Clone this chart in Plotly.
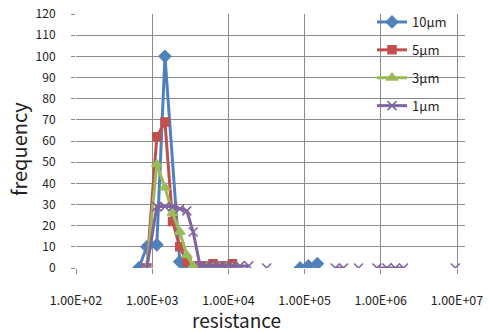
import plotly.graph_objects as go

# resistance bins (ohm) and frequencies
x_10um = [668, 850, 1150, 1470, 2300, 2850, 3450, None, 87300, 112000, 147000]
y_10um = [0, 10, 11, 100, 3, 0, 0, None, 0, 1, 2]

x_5um = [850, 1150, 1470, 1850, 2300, 2850, 3450, 4250, 5155, 6280, 7640, 9300, 11300]
y_5um = [0, 62, 69, 22, 10, 3, 1, 1, 1, 2, 1, 1, 2]

x_3um = [850, 1150, 1470, 1850, 2300, 2850, 3450, 4250, 5155, 6280, 7640, 9300, 11300]
y_3um = [0, 49, 38, 26, 17, 6, 1, 0, 0, 0, 0, 0, 0]

x_1um = [850, 1150, 1470, 1850, 2300, 2850, 3450, 4250, 5155, 6280, 7640, 9300, 11300,
         14200, 18500, None, 31800, None, 252000, 324000, None, 510000, None,
         889000, 1200000, 1550000, 1990000, None, 9500000]
y_1um = [0, 29, 29, 29, 28, 27, 17, 1, 1, 1, 1, 1, 1,
         1, 1, None, 0, None, 0, 0, None, 0, None,
         0, 0, 0, 0, None, 0]

tick_vals = [1e2, 1e3, 1e4, 1e5, 1e6, 1e7]
tick_text = ["1.00E+02", "1.00E+03", "1.00E+04", "1.00E+05", "1.00E+06", "1.00E+07"]
y_ticks = list(range(0, 121, 10))

series = [
    ("10μm", x_10um, y_10um, "#4F81BD", "diamond", 9),
    ("5μm", x_5um, y_5um, "#C0504D", "square", 8),
    ("3μm", x_3um, y_3um, "#9BBB59", "triangle-up", 9),
    ("1μm", x_1um, y_1um, "#8064A2", "x-thin-open", 9),
]

fig = go.Figure()
for name, xs, ys, color, sym, size in series:
    fig.add_trace(go.Scatter(
        x=xs, y=ys, name=name, mode="lines+markers", legendgroup=name,
        line=dict(color=color, width=3),
        marker=dict(symbol=sym, size=size, color=color,
                    line=dict(color=color, width=1.5)),
        connectgaps=False,
    ))

FONT = "Noto Sans CJK KR, Malgun Gothic, sans-serif"
L, R, T, B = 76, 24, 14, 64
PH = 332 - T - B
PW = 489 - L - R
fig.update_layout(
    width=489, height=332,
    margin=dict(l=L, r=R, t=T, b=B, autoexpand=False),
    paper_bgcolor="white", plot_bgcolor="white",
    font=dict(family=FONT, color="#222222", size=12),
    showlegend=True,
    legend=dict(x=(372 - L) / PW, y=1.0 + 7 / PH, xanchor="left", yanchor="top",
                bgcolor="rgba(0,0,0,0)", font=dict(size=13, color="#222222"),
                tracegroupgap=8, itemwidth=30),
    xaxis=dict(type="log", range=[2, 7.105], tickvals=tick_vals, ticktext=tick_text,
               automargin=False,
               showgrid=True, gridcolor="#8c8c8c", gridwidth=1,
               showline=False, zeroline=False,
               ticks="outside", ticklen=5, tickcolor="#8c8c8c",
               ticklabelstandoff=16,
               tickfont=dict(size=12.5, color="#222222")),
    yaxis=dict(range=[0, 120], tickvals=y_ticks,
               automargin=False,
               showgrid=True, gridcolor="#8c8c8c", gridwidth=1,
               showline=False, zeroline=False,
               ticks="outside", ticklen=4, tickcolor="#8c8c8c",
               ticklabelstandoff=13,
               tickfont=dict(size=12, color="#222222")),
    annotations=[
        dict(text="resistance", xref="paper", yref="paper",
             x=(236 - L) / PW, y=-(319 - (332 - B)) / PH,
             xanchor="center", yanchor="middle", showarrow=False,
             font=dict(size=19, color="#222222")),
        dict(text="frequency", xref="paper", yref="paper",
             x=-(L - 18) / PW, y=1 - (149 - T) / PH,
             xanchor="center", yanchor="middle", showarrow=False, textangle=-90,
             font=dict(size=20, color="#222222")),
    ],
)

fig.write_html(
    "out.html",
    config={"displayModeBar": False},
    post_script="document.body.style.margin='0';document.body.style.overflow='hidden';",
)
